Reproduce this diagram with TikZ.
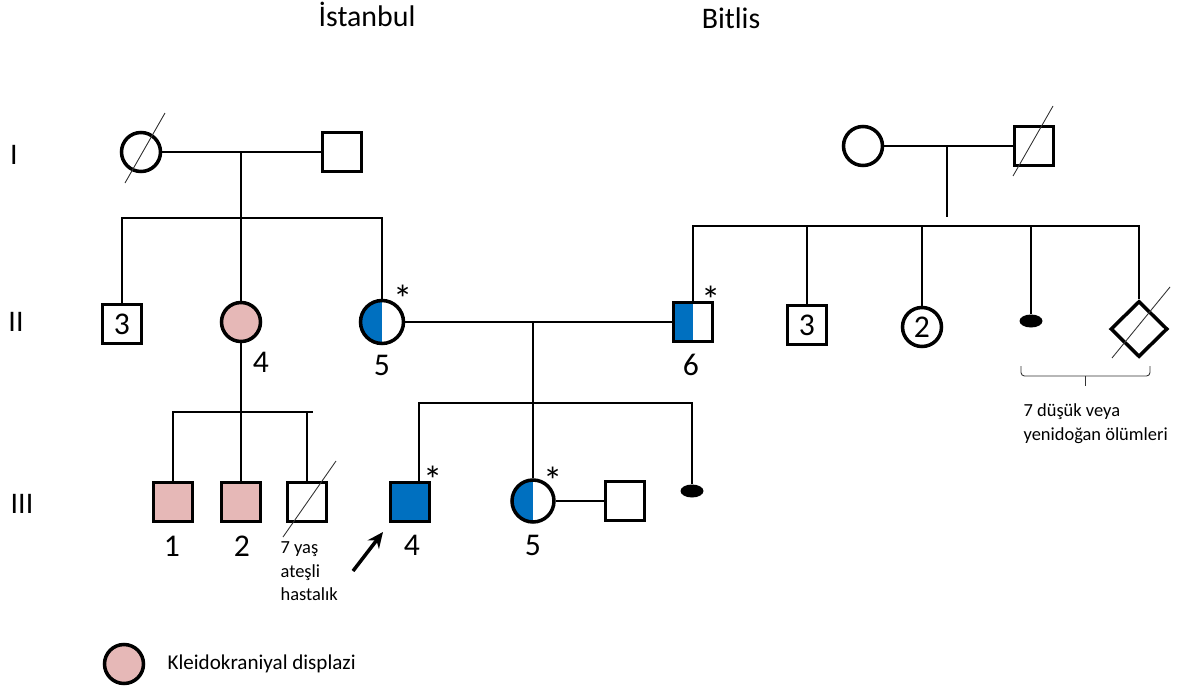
\documentclass[tikz,border=0pt]{standalone}
\usepackage{fontspec}
\setmainfont{Carlito}
\usetikzlibrary{arrows.meta,shapes.geometric}

\definecolor{kkdpink}{HTML}{E6B8B7}
\definecolor{mutblue}{HTML}{0070C0}

\begin{document}
\begin{tikzpicture}[x=0.02cm, y=-0.02cm, line width=0.7pt,
    sym/.style={draw, line width=2pt, inner sep=0pt, minimum size=0.78cm, font=\fontsize{18}{18}\selectfont},
    male/.style={sym, rectangle},
    female/.style={sym, circle},
    affected/.style={fill=kkdpink},
    mutant/.style={fill=mutblue},
    halfmut/.style={path picture={\fill[mutblue] (path picture bounding box.south west) rectangle (path picture bounding box.north);}},
    loss/.style={ellipse, fill, inner sep=0pt, minimum width=0.46cm, minimum height=0.26cm},
    num/.style={font=\fontsize{18}{18}\selectfont, inner sep=0pt},
    gen/.style={font=\fontsize{17}{17}\selectfont, inner sep=0pt},
    ast/.style={font=\fontsize{22}{22}\selectfont, inner sep=0pt, anchor=north},
    note/.style={font=\fontsize{10.5}{13.5}\selectfont, align=left, anchor=north west, inner sep=0pt},
    slash/.style={line width=0.5pt, draw=black!80}]

    \useasboundingbox (0,0) rectangle (1180,693);

    % Places and generations
    \node [gen, anchor=base] (ist) at (367,27) {İstanbul};
    \node [gen, anchor=base] (bit) at (731,29) {Bitlis};
    \node [gen] (g1) at (14,155)  {I};
    \node [gen] (g2) at (16,322)  {II};
    \node [gen] (g3) at (22,504)  {III};

    % Generation I
    \node [female]          (i1)  at (141,152)  {};
    \node [male]            (i2)  at (342,152)  {};
    \node [female]          (i3)  at (863,146)  {};
    \node [male]            (i4)  at (1034,146) {};

    % Generation II
    \node [male]                (ii3)  at (122,324)  {3};
    \node [female, affected]    (ii4)  at (241,322)  {};
    \node [female, halfmut, minimum size=0.86cm] (ii5) at (382,322) {};
    \node [male, halfmut]       (ii6)  at (693,322)  {};
    \node [male]                (ii7)  at (807,325)  {3};
    \node [female]              (ii8)  at (922,327)  {2};
    \node [loss]                (ii9)  at (1031,321) {};
    \node [sym, diamond, minimum width=1.14cm, minimum height=1.12cm] (ii10) at (1139,329) {};

    % Generation III
    \node [male, affected]      (iii1) at (173,502)  {};
    \node [male, affected]      (iii2) at (241,502)  {};
    \node [male]                (iii3) at (307,502)  {};
    \node [male, mutant]        (iii4) at (410,502)  {};
    \node [female, halfmut, minimum size=0.84cm] (iii5) at (533,501) {};
    \node [male]                (iii6) at (625,501)  {};
    \node [loss]                (iii7) at (692,491)  {};

    % Numbers under the symbols
    \node [num] (n4)  at (261,362) {4};
    \node [num] (n5)  at (382,365) {5};
    \node [num] (n6)  at (691,365) {6};
    \node [num] (n31) at (172,546) {1};
    \node [num] (n32) at (242,546) {2};
    \node [num] (n34) at (412,545) {4};
    \node [num] (n35) at (533,545) {5};

    % Asterisks
    \node [ast] (a5)  at (403,284) {*};
    \node [ast] (a6)  at (711,285) {*};
    \node [ast] (a34) at (433,465) {*};
    \node [ast] (a35) at (553,466) {*};

    % Deceased
    \draw [slash] (125,183)  -- (165,113);
    \draw [slash] (1013,176) -- (1053,106);
    \draw [slash] (283,537)  -- (336,461);
    \draw [slash] (1112,358) -- (1170,287);

    % Marriages
    \draw (i1) -- (i2);
    \draw (i3) -- (i4);
    \draw (ii5) -- (ii6);
    \draw (iii5) -- (iii6);

    % Istanbul sibship
    \coordinate (m1) at (241,152);
    \coordinate (s1) at (241,218);
    \draw (m1) -- (s1);
    \draw (ii3.north) |- (s1) -| (ii5.north);
    \draw (s1) -- (ii4.north);

    % Bitlis sibship
    \coordinate (m2) at (947,146);
    \coordinate (s2) at (947,217);
    \coordinate (l2) at (693,226);
    \draw (m2) -- (s2);
    \draw (ii6.north) -- (l2) -- (ii10.north |- l2) -- (ii10.north);
    \foreach \n in {ii7, ii8, ii9}
        \draw (\n.north) -- (\n.north |- l2);

    % Children of II-4
    \coordinate (s3) at (241,412);
    \coordinate (e3) at (313,412);
    \draw (ii4.south) -- (iii2.north);
    \draw (iii1.north) |- (e3);
    \draw (iii3.north) -- (iii3.north |- s3);

    % Children of II-5 and II-6
    \coordinate (m3) at (533,322);
    \coordinate (s4) at (419,403);
    \draw (m3) -- (iii5.north);
    \draw (s4 |- iii4.north) -- (s4) -- (iii7.north |- s4) -- (iii7.north);

    % Proband
    \coordinate (ptail) at (353,571);
    \coordinate (ptip)  at (383,532);
    \draw [line width=2pt, -{Stealth[length=9pt, width=8pt]}] (ptail) -- (ptip);

    % Notes
    \node [note] (t1) at (280,541) {7 yaş\\ateşli\\hastalık};
    \draw [slash, rounded corners=2pt] (1021,366) -- (1021,376) -- (1150,376) -- (1150,366);
    \coordinate (b1) at (1085,376);
    \coordinate (b2) at (1085,386);
    \draw [slash] (b1) -- (b2);
    \node [note] (t2) at (1023,403) {7 düşük veya\\yenidoğan ölümleri};

    % Legend
    \node [female, affected] (leg) at (124,664) {};
    \node [anchor=west, inner sep=0pt, font=\fontsize{12}{12}\selectfont] (legt) at (167,664) {Kleidokraniyal displazi};

\end{tikzpicture}
\end{document}
